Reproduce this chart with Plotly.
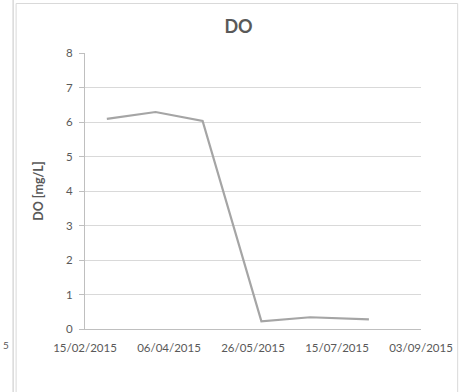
import plotly.graph_objects as go

# Dissolved oxygen samples
dates = ["2015-02-28", "2015-03-29", "2015-04-26", "2015-05-31", "2015-06-29", "2015-08-03"]
do_values = [6.09, 6.29, 6.03, 0.22, 0.34, 0.28]

x_tick_vals = ["2015-02-15", "2015-04-06", "2015-05-26", "2015-07-15", "2015-09-03"]
x_tick_text = ["15/02/2015", "06/04/2015", "26/05/2015", "15/07/2015", "03/09/2015"]

W, H = 465, 392
L, R, T, B = 85, 424, 53, 329  # plot area in pixels


def px(xp):
    return (xp - L) / (R - L)


def py(yp):
    return (B - yp) / (B - T)


FONT = "Lato, 'Open Sans', sans-serif"
TXT = "#595959"

fig = go.Figure()
fig.add_trace(go.Scatter(
    x=dates, y=do_values, mode="lines",
    line=dict(color="#a5a5a5", width=2.2),
    hoverinfo="skip", showlegend=False,
))

# chart frame and neighbouring frame edge
border = "#d9d9d9"
fig.add_shape(type="rect", xref="paper", yref="paper",
              x0=px(15.5), x1=px(461), y0=py(3.5), y1=py(400),
              line=dict(color=border, width=1), layer="below")
fig.add_shape(type="line", xref="paper", yref="paper",
              x0=px(12.5), x1=px(12.5), y0=py(-5), y1=py(400),
              line=dict(color=border, width=1.5), layer="below")
fig.add_annotation(xref="paper", yref="paper", x=px(0), y=py(345),
                   xanchor="left", yanchor="middle", showarrow=False,
                   text="5", font=dict(family=FONT, size=10, color=TXT))

fig.update_layout(
    width=W, height=H,
    margin=dict(l=L, r=W - R, t=T, b=H - B, pad=0),
    paper_bgcolor="white", plot_bgcolor="white",
    title=dict(text="<b>DO</b>", x=238.5 / W, xanchor="center",
               y=1 - 27 / H, yanchor="middle",
               font=dict(family=FONT, size=18, color=TXT)),
    xaxis=dict(
        type="date", range=["2015-02-15", "2015-09-03"],
        tickvals=x_tick_vals, ticktext=x_tick_text,
        showgrid=False, zeroline=False,
        showline=True, linecolor="#bfbfbf", linewidth=1,
        ticks="", ticklabelstandoff=8,
        tickfont=dict(family=FONT, size=11.5, color=TXT),
    ),
    yaxis=dict(
        range=[0, 8], dtick=1, tick0=0,
        showgrid=True, gridcolor="#d9d9d9", gridwidth=1,
        zeroline=False,
        showline=True, linecolor="#bfbfbf", linewidth=1,
        ticks="outside", ticklen=5, tickcolor="#bfbfbf",
        ticklabelstandoff=4,
        tickfont=dict(family=FONT, size=11.5, color=TXT),
        title=dict(text="<b>DO [mg/L]</b>", standoff=19,
                   font=dict(family=FONT, size=12.5, color=TXT)),
    ),
)

fig.write_html("out.html")
